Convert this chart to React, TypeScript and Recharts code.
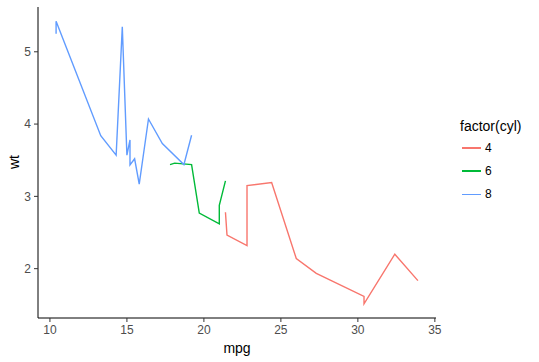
import React from 'react'
import { LineChart, Line, XAxis, YAxis } from 'recharts'

// mtcars, one path per cylinder count, ordered by mpg the way geom_line draws it
const mpg4 = [21.4, 21.5, 22.8, 22.8, 24.4, 26.0, 27.3, 30.4, 30.4, 32.4, 33.9]
const wt4 = [2.78, 2.465, 2.32, 3.15, 3.19, 2.14, 1.935, 1.615, 1.513, 2.2, 1.835]
const mpg6 = [17.8, 18.1, 19.2, 19.7, 21.0, 21.0, 21.4]
const wt6 = [3.44, 3.46, 3.44, 2.77, 2.62, 2.875, 3.215]
const mpg8 = [10.4, 10.4, 13.3, 14.3, 14.7, 15.0, 15.2, 15.2, 15.5, 15.8, 16.4, 17.3, 18.7, 19.2]
const wt8 = [5.25, 5.424, 3.84, 3.57, 5.345, 3.57, 3.78, 3.435, 3.52, 3.17, 4.07, 3.73, 3.44, 3.845]

const cylLabels = ['4', '6', '8']
const cylColors = ['#F8766D', '#00BA38', '#619CFF']
const xTicks = [10, 15, 20, 25, 30, 35]
const yTicks = [2, 3, 4, 5]

const toPoints = (xs: number[], ys: number[]) => xs.map((x, i) => ({ mpg: x, wt: ys[i] }))
const series = [toPoints(mpg4, wt4), toPoints(mpg6, wt6), toPoints(mpg8, wt8)]

const font = 'Liberation Sans, Arial, sans-serif'
const tick = { fill: '#4D4D4D', fontSize: 12, fontFamily: font }

export default function App() {
  return (
    <div style={{ position: 'absolute', left: 0, top: 0, width: 539, height: 362, background: '#fff', fontFamily: font }}>
      <LineChart width={539} height={362} margin={{ top: 7, right: 103, bottom: 0, left: 0 }}>
        <XAxis
          dataKey="mpg"
          type="number"
          domain={[9.225, 35.075]}
          ticks={xTicks}
          allowDataOverflow
          height={44}
          stroke="#000"
          tickLine={{ stroke: '#333' }}
          tickSize={4}
          tickMargin={3}
          tick={tick}
          label={{ value: 'mpg', position: 'insideBottom', offset: 9, fill: '#000', fontSize: 14, fontFamily: font }}
        />
        <YAxis
          dataKey="wt"
          type="number"
          domain={[1.3175, 5.6195]}
          ticks={yTicks}
          allowDataOverflow
          width={38}
          stroke="#000"
          tickLine={{ stroke: '#333' }}
          tickSize={4}
          tickMargin={3}
          tick={tick}
        />
        {series.map((data, i) => (
          <Line
            key={cylLabels[i]}
            data={data}
            dataKey="wt"
            stroke={cylColors[i]}
            strokeWidth={1.4}
            dot={false}
            activeDot={false}
            isAnimationActive={false}
          />
        ))}
      </LineChart>
      <div style={{ position: 'absolute', left: 14, top: 162, transform: 'translate(-50%, -50%) rotate(-90deg)', fontSize: 14, color: '#000' }}>
        wt
      </div>
      <div style={{ position: 'absolute', left: 460, top: 118, fontSize: 14, color: '#000', lineHeight: '16px' }}>
        factor(cyl)
      </div>
      {cylLabels.map((c, i) => (
        <div key={c} style={{ position: 'absolute', left: 462, top: 148 + i * 23.2 - 8, height: 16, display: 'flex', alignItems: 'center' }}>
          <div style={{ width: 19, height: 1.4, background: cylColors[i] }} />
          <span style={{ marginLeft: 4, fontSize: 12, color: '#000' }}>{c}</span>
        </div>
      ))}
    </div>
  )
}
